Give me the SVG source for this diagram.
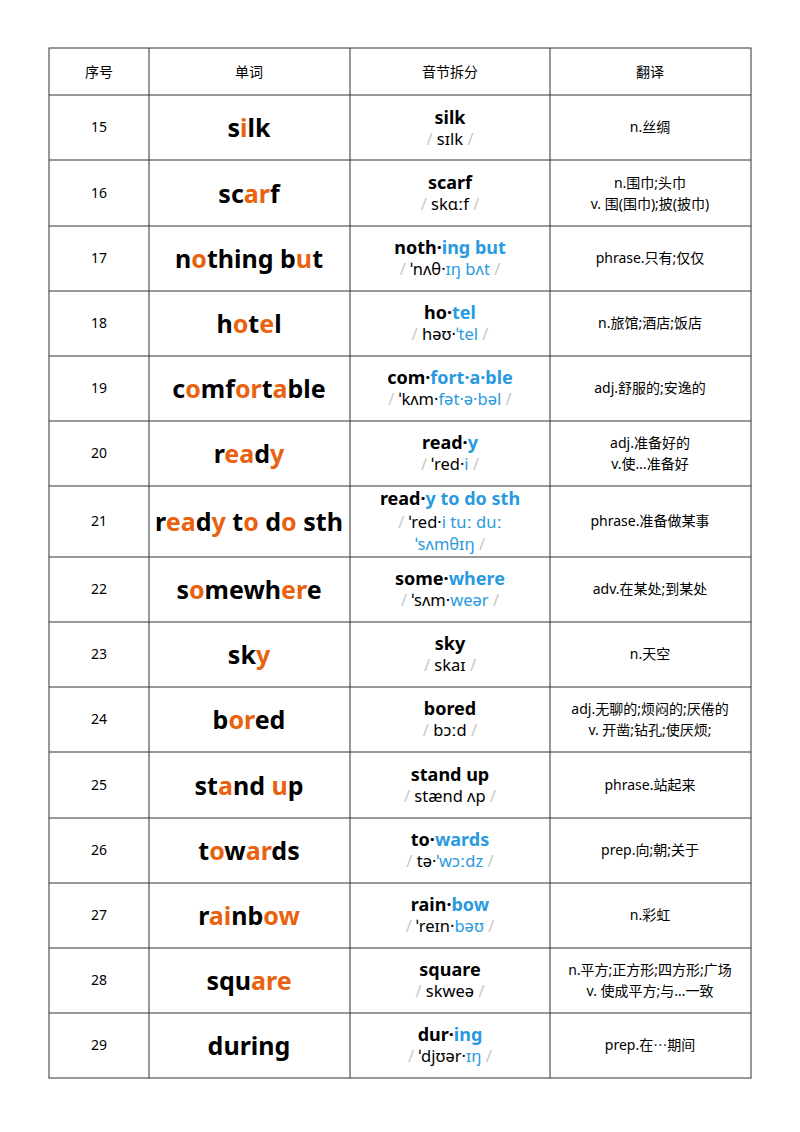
<svg xmlns="http://www.w3.org/2000/svg" width="800" height="1132" viewBox="0 0 800 1132">
<style>
text{font-family:"Noto Sans","Noto Sans CJK SC",sans-serif;text-anchor:middle;fill:#000}
.h{font-size:14px}
.n{font-size:14px}
.w{font-size:25px;font-weight:bold}
.s{font-size:18px;font-weight:bold}
.p{font-size:16.5px}
.t{font-size:14px}
.o{fill:#e8620f}
.b{fill:#2a9ae0}
.g{fill:#c8c8c8}
line{stroke:#333;stroke-width:1}
</style>
<rect width="800" height="1132" fill="#fff"/>
<g id="grid">
<rect x="49" y="48" width="702" height="1030" fill="none" stroke="#333"/>
<line x1="149" y1="48" x2="149" y2="1078"/><line x1="350" y1="48" x2="350" y2="1078"/><line x1="550" y1="48" x2="550" y2="1078"/>
<line x1="49" y1="95" x2="751" y2="95"/><line x1="49" y1="160" x2="751" y2="160"/><line x1="49" y1="226" x2="751" y2="226"/><line x1="49" y1="291" x2="751" y2="291"/><line x1="49" y1="356" x2="751" y2="356"/><line x1="49" y1="421" x2="751" y2="421"/><line x1="49" y1="486" x2="751" y2="486"/><line x1="49" y1="557" x2="751" y2="557"/><line x1="49" y1="622" x2="751" y2="622"/><line x1="49" y1="687" x2="751" y2="687"/><line x1="49" y1="752" x2="751" y2="752"/><line x1="49" y1="818" x2="751" y2="818"/><line x1="49" y1="883" x2="751" y2="883"/><line x1="49" y1="948" x2="751" y2="948"/><line x1="49" y1="1013" x2="751" y2="1013"/>
</g>
<g id="header">
<text class="h" x="99" y="77">序号</text><text class="h" x="249" y="77">单词</text><text class="h" x="450" y="77">音节拆分</text><text class="h" x="650" y="77">翻译</text>
</g>
<g id="r15">
<text class="n" x="99" y="132">15</text>
<text class="w" x="249" y="137">s<tspan class="o">i</tspan>lk</text>
<text class="s" x="450" y="124">silk</text>
<text class="p" x="450" y="145"><tspan class="g">/ </tspan>sɪlk<tspan class="g"> /</tspan></text>
<text class="t" x="650" y="132">n.丝绸</text>
</g>
<g id="r16">
<text class="n" x="99" y="198">16</text>
<text class="w" x="249" y="203">sc<tspan class="o">ar</tspan>f</text>
<text class="s" x="450" y="189">scarf</text>
<text class="p" x="450" y="210"><tspan class="g">/ </tspan>skɑːf<tspan class="g"> /</tspan></text>
<text class="t" x="650" y="188">n.围巾;头巾</text>
<text class="t" x="650" y="209">v. 围(围巾);披(披巾)</text>
</g>
<g id="r17">
<text class="n" x="99" y="263">17</text>
<text class="w" x="249" y="268">n<tspan class="o">o</tspan>thing b<tspan class="o">u</tspan>t</text>
<text class="s" x="450" y="254">noth·<tspan class="b">ing but</tspan></text>
<text class="p" x="450" y="275"><tspan class="g">/ </tspan>ˈnʌθ·<tspan class="b">ɪŋ bʌt</tspan><tspan class="g"> /</tspan></text>
<text class="t" x="650" y="263">phrase.只有;仅仅</text>
</g>
<g id="r18">
<text class="n" x="99" y="328">18</text>
<text class="w" x="249" y="333">h<tspan class="o">o</tspan>t<tspan class="o">e</tspan>l</text>
<text class="s" x="450" y="319">ho·<tspan class="b">tel</tspan></text>
<text class="p" x="450" y="340"><tspan class="g">/ </tspan>həʊ·<tspan class="b">ˈtel</tspan><tspan class="g"> /</tspan></text>
<text class="t" x="650" y="328">n.旅馆;酒店;饭店</text>
</g>
<g id="r19">
<text class="n" x="99" y="393">19</text>
<text class="w" x="249" y="398">c<tspan class="o">o</tspan>mf<tspan class="o">or</tspan>t<tspan class="o">a</tspan>ble</text>
<text class="s" x="450" y="384">com·<tspan class="b">fort·a·ble</tspan></text>
<text class="p" x="450" y="405"><tspan class="g">/ </tspan>ˈkʌm·<tspan class="b">fət·ə·bəl</tspan><tspan class="g"> /</tspan></text>
<text class="t" x="650" y="393">adj.舒服的;安逸的</text>
</g>
<g id="r20">
<text class="n" x="99" y="458">20</text>
<text class="w" x="249" y="463">r<tspan class="o">ea</tspan>d<tspan class="o">y</tspan></text>
<text class="s" x="450" y="449">read·<tspan class="b">y</tspan></text>
<text class="p" x="450" y="470"><tspan class="g">/ </tspan>ˈred·<tspan class="b">i</tspan><tspan class="g"> /</tspan></text>
<text class="t" x="650" y="448">adj.准备好的</text>
<text class="t" x="650" y="469">v.使…准备好</text>
</g>
<g id="r21">
<text class="n" x="99" y="526">21</text>
<text class="w" x="249" y="531">r<tspan class="o">ea</tspan>d<tspan class="o">y</tspan> t<tspan class="o">o</tspan> d<tspan class="o">o</tspan> sth</text>
<text class="s" x="450" y="505">read·<tspan class="b">y to do sth</tspan></text>
<text class="p" x="450" y="528"><tspan class="g">/ </tspan>ˈred·<tspan class="b">i tuː duː</tspan></text>
<text class="p" x="450" y="550"><tspan class="b">ˈsʌmθɪŋ</tspan><tspan class="g"> /</tspan></text>
<text class="t" x="650" y="526">phrase.准备做某事</text>
</g>
<g id="r22">
<text class="n" x="99" y="594">22</text>
<text class="w" x="249" y="599">s<tspan class="o">o</tspan>mewh<tspan class="o">er</tspan>e</text>
<text class="s" x="450" y="585">some·<tspan class="b">where</tspan></text>
<text class="p" x="450" y="606"><tspan class="g">/ </tspan>ˈsʌm·<tspan class="b">weər</tspan><tspan class="g"> /</tspan></text>
<text class="t" x="650" y="594">adv.在某处;到某处</text>
</g>
<g id="r23">
<text class="n" x="99" y="659">23</text>
<text class="w" x="249" y="664">sk<tspan class="o">y</tspan></text>
<text class="s" x="450" y="650">sky</text>
<text class="p" x="450" y="671"><tspan class="g">/ </tspan>skaɪ<tspan class="g"> /</tspan></text>
<text class="t" x="650" y="659">n.天空</text>
</g>
<g id="r24">
<text class="n" x="99" y="724">24</text>
<text class="w" x="249" y="729">b<tspan class="o">or</tspan>ed</text>
<text class="s" x="450" y="715">bored</text>
<text class="p" x="450" y="736"><tspan class="g">/ </tspan>bɔːd<tspan class="g"> /</tspan></text>
<text class="t" x="650" y="714">adj.无聊的;烦闷的;厌倦的</text>
<text class="t" x="650" y="735">v. 开凿;钻孔;使厌烦;</text>
</g>
<g id="r25">
<text class="n" x="99" y="790">25</text>
<text class="w" x="249" y="795">st<tspan class="o">a</tspan>nd <tspan class="o">u</tspan>p</text>
<text class="s" x="450" y="781">stand up</text>
<text class="p" x="450" y="802"><tspan class="g">/ </tspan>stænd ʌp<tspan class="g"> /</tspan></text>
<text class="t" x="650" y="790">phrase.站起来</text>
</g>
<g id="r26">
<text class="n" x="99" y="855">26</text>
<text class="w" x="249" y="860">t<tspan class="o">o</tspan>w<tspan class="o">ar</tspan>ds</text>
<text class="s" x="450" y="846">to·<tspan class="b">wards</tspan></text>
<text class="p" x="450" y="867"><tspan class="g">/ </tspan>tə·<tspan class="b">ˈwɔːdz</tspan><tspan class="g"> /</tspan></text>
<text class="t" x="650" y="855">prep.向;朝;关于</text>
</g>
<g id="r27">
<text class="n" x="99" y="920">27</text>
<text class="w" x="249" y="925">r<tspan class="o">ai</tspan>nb<tspan class="o">ow</tspan></text>
<text class="s" x="450" y="911">rain·<tspan class="b">bow</tspan></text>
<text class="p" x="450" y="932"><tspan class="g">/ </tspan>ˈreɪn·<tspan class="b">bəʊ</tspan><tspan class="g"> /</tspan></text>
<text class="t" x="650" y="920">n.彩虹</text>
</g>
<g id="r28">
<text class="n" x="99" y="985">28</text>
<text class="w" x="249" y="990">squ<tspan class="o">are</tspan></text>
<text class="s" x="450" y="976">square</text>
<text class="p" x="450" y="997"><tspan class="g">/ </tspan>skweə<tspan class="g"> /</tspan></text>
<text class="t" x="650" y="975">n.平方;正方形;四方形;广场</text>
<text class="t" x="650" y="996">v. 使成平方;与…一致</text>
</g>
<g id="r29">
<text class="n" x="99" y="1050">29</text>
<text class="w" x="249" y="1055">during</text>
<text class="s" x="450" y="1041">dur·<tspan class="b">ing</tspan></text>
<text class="p" x="450" y="1062"><tspan class="g">/ </tspan>ˈdjʊər·<tspan class="b">ɪŋ</tspan><tspan class="g"> /</tspan></text>
<text class="t" x="650" y="1050">prep.在⋯期间</text>
</g>
</svg>
